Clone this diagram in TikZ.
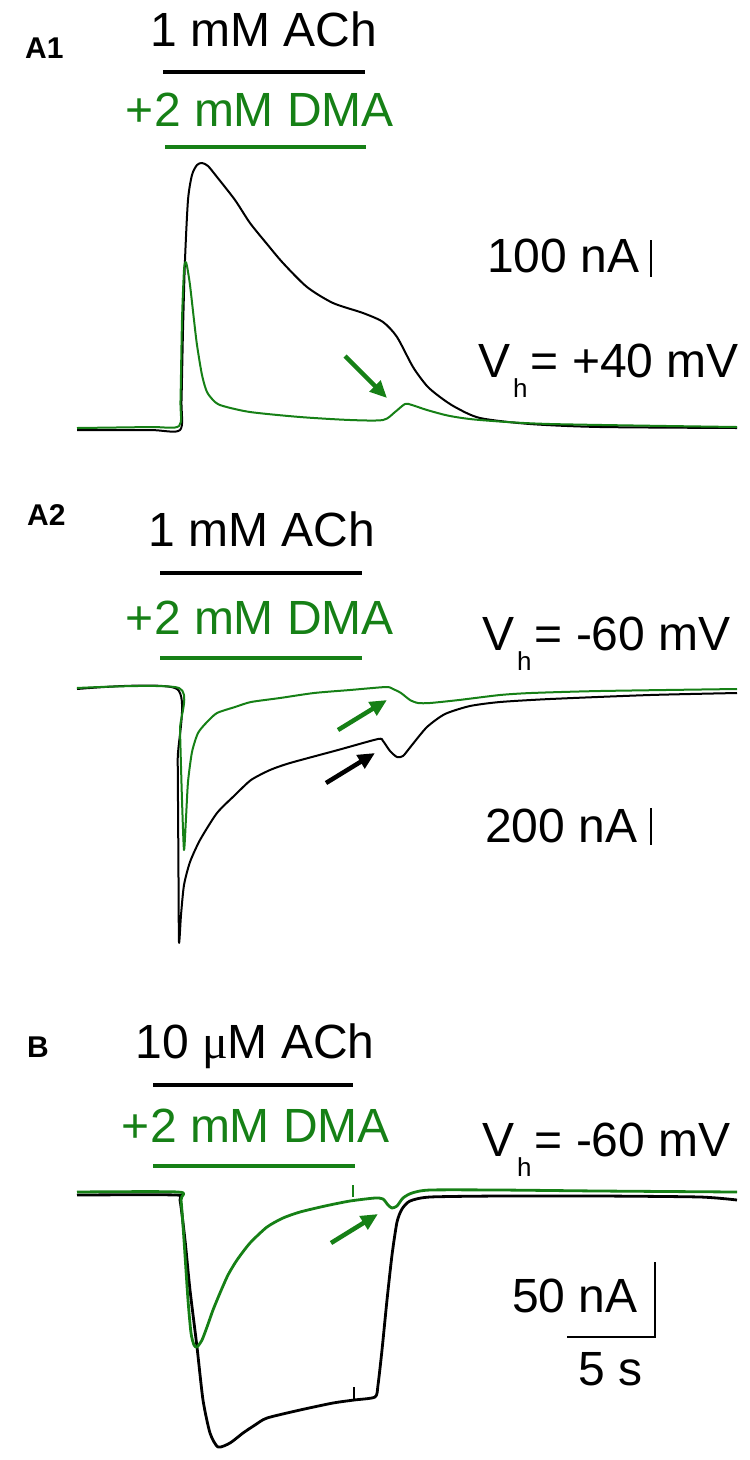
\documentclass[tikz,border=0pt]{standalone}
\usepackage{fontspec}
\setmainfont{Liberation Sans}
\newfontfamily\serifmu{Liberation Serif}
\usetikzlibrary{arrows.meta}
\definecolor{dmagreen}{RGB}{22,128,22}
\newcommand{\vsub}{V\kern3pt\raisebox{-20pt}{\fontsize{26}{30}\selectfont h}\kern3pt}
\begin{document}
\begin{tikzpicture}[x=1pt,y=-1pt,
  lbl/.style={inner sep=0pt, font=\fontsize{48}{58}\selectfont, anchor=base},
  panel/.style={inner sep=0pt, font=\fontsize{30}{36}\selectfont\bfseries, anchor=base west},
  bar/.style={line width=4.5pt},
  scalebar/.style={line width=2pt},
  trace/.style={line width=2pt, line join=round},
  noisy/.style={line width=2.8pt, line join=round},
  pointer/.style={line width=4.5pt, -{Triangle[length=17pt,width=15pt]}},
  vh/.style={lbl, anchor=base west}
]
\useasboundingbox (0,0) rectangle (750,1460);

% ================= A1 =================
\node[panel] (A1) at (25,58) {A1};
\node[lbl] (ach1) at (264,46) {1 mM ACh};
\coordinate (ach1l) at (163,72); \coordinate (ach1r) at (365,72);
\draw[bar] (ach1l) -- (ach1r);
\node[lbl, dmagreen] (dma1) at (260,126) {+2 mM DMA};
\coordinate (dma1l) at (165,147); \coordinate (dma1r) at (366,147);
\draw[bar, dmagreen] (dma1l) -- (dma1r);

\draw[trace] plot[smooth, tension=0.45] coordinates {
 (77,430) (150,430) (180,430) (181.5,400) (183,330) (185,260) (188,200) (192,175)
 (197,165) (202,163) (208,166) (217,177) (235,200) (250,223) (267,244) (283,263)
 (307,287) (333,303) (363,313) (383,322) (397,337) (413,367) (427,386) (440,397)
 (455,407) (480,418) (530,424) (600,427) (737,428)};
\draw[trace, dmagreen] plot[smooth, tension=0.45] coordinates {
 (77,428) (150,427) (179,426) (180.5,400) (182,320) (184,270) (185.5,262) (187,266)
 (190,285) (194,320) (197,345) (202,375) (207,392) (215,402) (223,406) (250,412)
 (300,417) (350,420) (383,420) (395,412) (405,404) (412,405) (427,410) (450,416)
 (480,420) (550,424) (737,427)};
\coordinate (arA1t) at (345,356); \coordinate (arA1h) at (387,398);
\draw[pointer, dmagreen] (arA1t) -- (arA1h);

\node[lbl, anchor=base west] (sc1) at (487,272) {100 nA};
\coordinate (sc1a) at (651,240); \coordinate (sc1b) at (651,277);
\draw[scalebar] (sc1a) -- (sc1b);
\node[vh] (vh1) at (478,377) {\vsub= +40 mV};

% ================= A2 =================
\node[panel] (A2) at (27,525) {A2};
\node[lbl] (ach2) at (262,546) {1 mM ACh};
\coordinate (ach2l) at (160,573); \coordinate (ach2r) at (362,573);
\draw[bar] (ach2l) -- (ach2r);
\node[lbl, dmagreen] (dma2) at (260,634) {+2 mM DMA};
\coordinate (dma2l) at (160,658); \coordinate (dma2r) at (362,658);
\draw[bar, dmagreen] (dma2l) -- (dma2r);

\draw[trace] plot[smooth, tension=0.4] coordinates {
 (77,689) (177,689) (177.7,760) (178.4,860) (179,942) (181,915) (184,885) (190,862)
 (200,840) (217,813) (235,795) (251,780) (270,770) (290,763) (338,750) (378,739)
 (383,741) (390,751) (397,757) (403,756) (412,745) (427,727) (445,714) (470,706)
 (500,702) (550,699) (650,695) (737,693)};
\draw[trace, dmagreen] plot[smooth, tension=0.4] coordinates {
 (77,688) (179,688) (180,730) (182,800) (184,850) (186,818) (188,782) (192,752)
 (198,733) (207,722) (217,713) (235,707) (251,702) (280,698) (314,693) (350,690)
 (386,687) (393,689) (401,693) (410,700) (418,703) (430,703) (459,700) (500,695)
 (531,693) (600,691) (737,689)};
\coordinate (arA2gt) at (338,730); \coordinate (arA2gh) at (387,700);
\draw[pointer, dmagreen] (arA2gt) -- (arA2gh);
\coordinate (arA2kt) at (326,783); \coordinate (arA2kh) at (375,753);
\draw[pointer] (arA2kt) -- (arA2kh);

\node[vh] (vh2) at (482,650) {\vsub= -60 mV};
\node[lbl, anchor=base west] (sc2) at (485,842) {200 nA};
\coordinate (sc2a) at (651,808); \coordinate (sc2b) at (651,845);
\draw[scalebar] (sc2a) -- (sc2b);

% ================= B =================
\node[panel] (B) at (27,1057) {B};
\node[lbl] (achB) at (255,1058) {10 {\serifmu μ}M ACh};
\coordinate (achBl) at (153,1085); \coordinate (achBr) at (353,1085);
\draw[bar] (achBl) -- (achBr);
\node[lbl, dmagreen] (dmaB) at (256,1142) {+2 mM DMA};
\coordinate (dmaBl) at (153,1166); \coordinate (dmaBr) at (355,1166);
\draw[bar, dmagreen] (dmaBl) -- (dmaBr);

\draw[noisy] plot[smooth, tension=0.4] coordinates {
 (77,1195) (176,1195) (180,1200) (185,1240) (190,1290) (197,1347) (203,1400)
 (210,1433) (218,1447) (230,1443) (243,1433) (255,1425) (267,1418) (300,1410)
 (333,1403) (354,1400) (375,1397) (378,1385) (382,1350) (387,1300) (392,1255)
 (397,1222) (402,1209) (410,1201) (430,1197) (500,1196) (600,1196) (700,1197) (737,1200)};
\coordinate (tkB1) at (354,1400); \coordinate (tkB2) at (354,1387);
\draw[line width=1.4pt] (tkB1) -- (tkB2);
\draw[noisy, dmagreen] plot[smooth, tension=0.4] coordinates {
 (77,1192) (178,1192) (181,1200) (184,1240) (188,1300) (191,1333) (194,1345)
 (197,1347) (202,1340) (207,1327) (213,1310) (220,1293) (228,1275) (237,1260)
 (250,1243) (267,1227) (283,1218) (300,1212) (325,1206) (350,1201) (375,1198)
 (383,1199) (388,1205) (392,1208) (397,1206) (403,1198) (412,1193) (430,1190)
 (500,1190) (600,1191) (737,1192)};
\coordinate (tkG1) at (353,1197); \coordinate (tkG2) at (353,1185);
\draw[line width=1.4pt, dmagreen] (tkG1) -- (tkG2);
\coordinate (arBt) at (331,1243); \coordinate (arBh) at (378,1214);
\draw[pointer, dmagreen] (arBt) -- (arBh);

\node[vh] (vh3) at (482,1156) {\vsub= -60 mV};
\node[lbl, anchor=base west] (sc3) at (512,1312) {50 nA};
\coordinate (sbTop) at (655,1262); \coordinate (sbCorner) at (655,1337); \coordinate (sbLeft) at (567,1337);
\draw[scalebar] (sbTop) -- (sbCorner) -- (sbLeft);
\node[lbl] (secs) at (611,1385) {5 s};
\end{tikzpicture}
\end{document}
